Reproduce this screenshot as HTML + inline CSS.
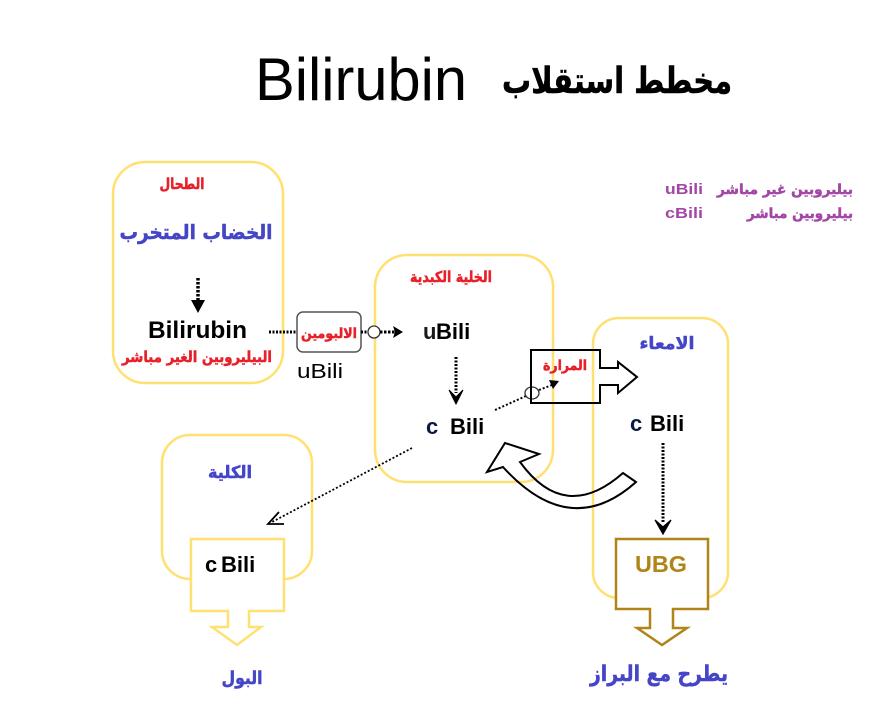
<!DOCTYPE html>
<html><head><meta charset="utf-8">
<style>
html,body{margin:0;padding:0;background:#fff;}
svg{display:block;}
text{font-family:"Liberation Sans","DejaVu Sans",sans-serif;}
.ar{font-family:"DejaVu Sans","Liberation Sans",sans-serif;font-weight:bold;stroke-width:0.5;}
.red{fill:#e8202a;stroke:#e8202a;}
.blue{fill:#4545c8;stroke:#4545c8;}
.pur{fill:#a346a6;}
.ar.pur{stroke:#a346a6;}
</style></head>
<body>
<svg width="894" height="703" viewBox="0 0 894 703" xmlns="http://www.w3.org/2000/svg">
<!-- Title -->
<text x="255" y="100" font-size="60" textLength="212" lengthAdjust="spacingAndGlyphs" fill="#000">Bilirubin</text>
<text class="ar" x="617" y="93" font-size="36" text-anchor="middle" textLength="230" lengthAdjust="spacingAndGlyphs" fill="#000" stroke="#000">مخطط استقلاب</text>

<!-- Legend -->
<text x="665" y="194" font-size="15" font-weight="bold" class="pur" textLength="38" lengthAdjust="spacingAndGlyphs">uBili</text>
<text class="ar pur" x="853" y="194" font-size="14" text-anchor="end" textLength="136" lengthAdjust="spacingAndGlyphs">بيليروبين غير مباشر</text>
<text x="665" y="218" font-size="15" font-weight="bold" class="pur" textLength="38" lengthAdjust="spacingAndGlyphs">cBili</text>
<text class="ar pur" x="853" y="218" font-size="14" text-anchor="end" textLength="106" lengthAdjust="spacingAndGlyphs">بيليروبين مباشر</text>

<!-- Yellow boxes -->
<g fill="none" stroke="#ffe070" stroke-width="2.5">
<rect x="113" y="162" width="170" height="221" rx="32"/>
<rect x="375" y="255" width="178" height="227" rx="32"/>
<rect x="593" y="318" width="135" height="280" rx="26"/>
<rect x="162" y="435" width="150" height="144" rx="28"/>
</g>

<!-- Spleen box content -->
<text class="ar red" x="182" y="189" font-size="15" text-anchor="middle" textLength="45" lengthAdjust="spacingAndGlyphs">الطحال</text>
<text class="ar blue" x="196" y="239" font-size="20" text-anchor="middle" textLength="153" lengthAdjust="spacingAndGlyphs">الخضاب المتخرب</text>
<line x1="198" y1="278" x2="198" y2="302" stroke="#000" stroke-width="3.5" stroke-dasharray="2.5 1.5"/>
<path d="M191 300 L205 300 L198 313 Z" fill="#000"/>
<text x="148" y="338" font-size="24" font-weight="bold" textLength="99" lengthAdjust="spacingAndGlyphs" fill="#000">Bilirubin</text>
<text class="ar red" x="197" y="362" font-size="15" text-anchor="middle" textLength="150" lengthAdjust="spacingAndGlyphs">البيليروبين الغير مباشر</text>

<!-- Albumin -->
<line x1="269" y1="332" x2="297" y2="332" stroke="#000" stroke-width="3" stroke-dasharray="2 1.5"/>
<rect x="297" y="312" width="64" height="40" rx="6" fill="#fff" stroke="#555" stroke-width="1.5"/>
<text class="ar red" x="329" y="338" font-size="14" text-anchor="middle" textLength="56" lengthAdjust="spacingAndGlyphs">الالبومين</text>
<text x="297" y="378" font-size="20" textLength="46" lengthAdjust="spacingAndGlyphs" fill="#000">uBili</text>
<line x1="361" y1="332" x2="368" y2="332" stroke="#000" stroke-width="3" stroke-dasharray="2 1.5"/>
<circle cx="374" cy="332" r="6" fill="#fff" stroke="#333" stroke-width="1.3"/>
<line x1="380" y1="332" x2="395" y2="332" stroke="#000" stroke-width="3" stroke-dasharray="2.5 1.5"/>
<path d="M393 326 L403 332 L393 338 L395 332 Z" fill="#000"/>

<!-- Liver -->
<text class="ar red" x="451" y="282" font-size="15" text-anchor="middle" textLength="82" lengthAdjust="spacingAndGlyphs">الخلية الكبدية</text>
<text x="423" y="339" font-size="22" font-weight="bold" fill="#000"><tspan fill="#1a1a1a">u</tspan><tspan x="436">Bili</tspan></text>
<line x1="456" y1="357" x2="456" y2="393" stroke="#000" stroke-width="3" stroke-dasharray="2 1.5"/>
<path d="M449 390 L456 397 L463 390 L456 404 Z" fill="#000" stroke="#000" stroke-width="1"/>
<text x="426" y="434" font-size="22" font-weight="bold" fill="#000"><tspan fill="#0a1a40">c</tspan><tspan x="450">Bili</tspan></text>

<!-- dotted to bile -->
<line x1="495" y1="410" x2="526" y2="396" stroke="#000" stroke-width="2" stroke-dasharray="2 2"/>
<ellipse cx="532" cy="393" rx="7" ry="6" fill="#fff" stroke="#333" stroke-width="1.3"/>
<line x1="539" y1="390" x2="552" y2="385" stroke="#000" stroke-width="2" stroke-dasharray="2 2"/>
<path d="M549 380 L559 381 L553 389 Z" fill="#000"/>

<!-- Bile callout -->
<path d="M531 350 H600 V368 H618 V362 L637 377 L618 393 V385 H600 V403 H531 Z" fill="none" stroke="#000" stroke-width="2"/>
<text class="ar red" x="565" y="370" font-size="14" text-anchor="middle" textLength="44" lengthAdjust="spacingAndGlyphs">المرارة</text>

<!-- curved arrow -->
<path d="M487 472 L505 443 L539 454 L520 462 Q565 524 623 473 L636 482 Q570 541 503 467 Z" fill="none" stroke="#000" stroke-width="2" stroke-linejoin="miter"/>

<!-- dotted to kidney -->
<line x1="412" y1="448" x2="272" y2="522" stroke="#000" stroke-width="1.8" stroke-dasharray="2 2"/>
<path d="M279 512 L268 524 L284 524" fill="none" stroke="#000" stroke-width="1.8"/>

<!-- Intestine -->
<text class="ar blue" x="667" y="349" font-size="17" text-anchor="middle" textLength="55" lengthAdjust="spacingAndGlyphs">الامعاء</text>
<text x="630" y="431" font-size="22" font-weight="bold" fill="#000"><tspan fill="#0a1a40">c</tspan><tspan x="650">Bili</tspan></text>
<line x1="663" y1="443" x2="663" y2="523" stroke="#000" stroke-width="3" stroke-dasharray="2 1.5"/>
<path d="M655 520 L663 527 L671 520 L663 534 Z" fill="#000" stroke="#000" stroke-width="1.2"/>
<path d="M616 539 H708 V609 H673 V628 H687 L662 645 L637 628 H650 V609 H616 Z" fill="#fff" stroke="#b08418" stroke-width="2.5"/>
<text x="635" y="572" font-size="23" font-weight="bold" fill="#b08418" textLength="52" lengthAdjust="spacingAndGlyphs">UBG</text>
<text class="ar blue" x="659" y="681" font-size="22" text-anchor="middle" textLength="138" lengthAdjust="spacingAndGlyphs">يطرح مع البراز</text>

<!-- Kidney -->
<text class="ar blue" x="230" y="478" font-size="17" text-anchor="middle" textLength="44" lengthAdjust="spacingAndGlyphs">الكلية</text>
<path d="M191 539 H284 V611 H249 V627 H261 L237 645 L212 627 H228 V611 H191 Z" fill="#fff" stroke="#ffe070" stroke-width="2.5"/>
<text x="205" y="572" font-size="22" font-weight="bold" fill="#000"><tspan>c</tspan><tspan x="221">Bili</tspan></text>
<text class="ar blue" x="242" y="684" font-size="18" text-anchor="middle" textLength="41" lengthAdjust="spacingAndGlyphs">البول</text>
</svg>
</body></html>
